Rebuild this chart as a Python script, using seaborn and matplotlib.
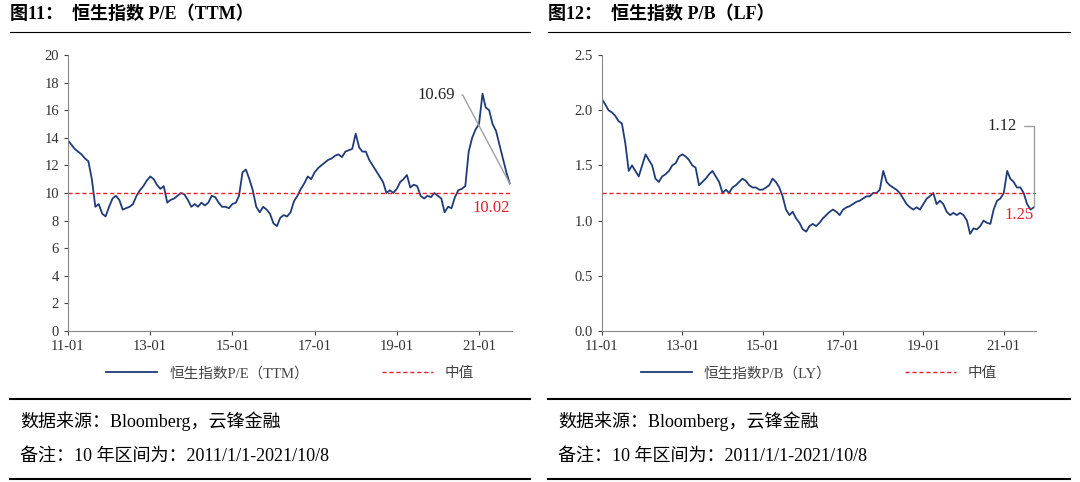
import numpy as np
import pandas as pd
import matplotlib
matplotlib.use('Agg')
import matplotlib.pyplot as plt
import matplotlib.dates as mdates
from matplotlib.lines import Line2D
import seaborn as sns

plt.rcParams['font.family'] = ['Liberation Serif', 'Noto Sans CJK SC']
plt.rcParams['axes.unicode_minus'] = False

# ==========================================
# 数据 (月度, 2011-01 ~ 2021-10, 读图估计)
# ==========================================
MONTHS = pd.date_range('2011-01-01', '2021-10-01', freq='MS')

PE_TTM = [
    13.8, 13.5, 13.2, 13.0, 12.8, 12.5, 12.3, 11.0, 9.0, 9.2, 8.5, 8.3,
    9.0, 9.6, 9.8, 9.5, 8.8, 8.9, 9.0, 9.2, 9.8, 10.2, 10.5, 10.9,
    11.2, 11.0, 10.6, 10.3, 10.5, 9.3, 9.5, 9.6, 9.8, 10.0, 9.9, 9.5,
    9.0, 9.2, 9.0, 9.3, 9.1, 9.3, 9.8, 9.7, 9.3, 9.0, 9.0, 8.9,
    9.2, 9.3, 9.8, 11.5, 11.7, 11.0, 10.2, 9.0, 8.6, 9.0, 8.8, 8.5,
    7.8, 7.6, 8.2, 8.4, 8.3, 8.6, 9.4, 9.8, 10.3, 10.7, 11.2, 11.0,
    11.5, 11.8, 12.0, 12.2, 12.4, 12.5, 12.7, 12.8, 12.6, 13.0, 13.1, 13.2,
    14.3, 13.3, 13.0, 13.0, 12.4, 12.0, 11.6, 11.2, 10.8, 10.0, 10.2, 10.0,
    10.3, 10.8, 11.0, 11.3, 10.4, 10.6, 10.5, 9.8, 9.6, 9.8, 9.7, 10.0,
    9.8, 9.6, 8.6, 9.0, 8.9, 9.7, 10.2, 10.3, 10.5, 13.0, 14.0, 14.6,
    15.0, 17.2, 16.2, 16.0, 15.0, 14.5, 13.5, 12.5, 11.5, 10.69,
]
PB_LF = [
    2.10, 2.05, 2.00, 1.98, 1.95, 1.90, 1.88, 1.70, 1.45, 1.50, 1.45, 1.40,
    1.50, 1.60, 1.55, 1.50, 1.38, 1.35, 1.40, 1.42, 1.45, 1.50, 1.52, 1.58,
    1.60, 1.58, 1.55, 1.50, 1.48, 1.32, 1.35, 1.38, 1.42, 1.45, 1.40, 1.35,
    1.25, 1.28, 1.25, 1.30, 1.32, 1.35, 1.38, 1.36, 1.32, 1.30, 1.30, 1.28,
    1.28, 1.30, 1.32, 1.38, 1.35, 1.30, 1.22, 1.10, 1.05, 1.08, 1.02, 0.98,
    0.92, 0.90, 0.95, 0.97, 0.95, 0.98, 1.02, 1.05, 1.08, 1.10, 1.08, 1.05,
    1.10, 1.12, 1.13, 1.15, 1.17, 1.18, 1.20, 1.22, 1.22, 1.25, 1.25, 1.28,
    1.45, 1.35, 1.32, 1.30, 1.28, 1.25, 1.20, 1.15, 1.12, 1.10, 1.12, 1.10,
    1.15, 1.20, 1.22, 1.25, 1.15, 1.18, 1.15, 1.08, 1.05, 1.07, 1.05, 1.07,
    1.05, 1.00, 0.88, 0.93, 0.92, 0.95, 1.00, 0.98, 0.97, 1.10, 1.18, 1.20,
    1.25, 1.45, 1.38, 1.35, 1.30, 1.30, 1.25, 1.15, 1.10, 1.12,
]
PE_MEDIAN = 10.02
PB_MEDIAN = 1.25
TICK_YEARS = ['2011', '2013', '2015', '2017', '2019', '2021']

LINE_COLOR = '#1f3c78'
RED = '#e3212b'
GREY = '#a0a0a0'


def draw_panel(ax, values, median, ylim, ystep, fmt, legend_name, last_label, med_label_y, text_xy, conn):
    df = pd.DataFrame({'date': MONTHS, 'value': values})
    sns.lineplot(data=df, x='date', y='value', ax=ax, color=LINE_COLOR, linewidth=1.3, label=legend_name)
    ax.axhline(median, color=RED, linestyle=(0, (3, 2)), linewidth=1.0, label='中值')

    ax.set_xlim(MONTHS[0], MONTHS[-1] + pd.Timedelta(days=20))
    ax.set_ylim(*ylim)
    ax.set_yticks(np.arange(ylim[0], ylim[1] + ystep / 2, ystep))
    ax.yaxis.set_major_formatter(plt.FormatStrFormatter(fmt))
    ax.set_xticks([pd.Timestamp(y + '-01-01') for y in TICK_YEARS])
    ax.xaxis.set_major_formatter(mdates.DateFormatter('%y-%m'))
    ax.set_xlabel('')
    ax.set_ylabel('')
    for s in ['top', 'right']:
        ax.spines[s].set_visible(False)
    for s in ['left', 'bottom']:
        ax.spines[s].set_color('#888888')
        ax.spines[s].set_linewidth(0.8)
    ax.tick_params(labelsize=10.5, colors='#444444', length=3, width=0.8)
    for lab in ax.get_xticklabels() + ax.get_yticklabels():
        lab.set_color('#333333')

    # 最新值标注
    ax.annotate(last_label, xy=(MONTHS[-1], values[-1]),
                xytext=(pd.Timestamp(text_xy[0]), text_xy[1]),
                fontsize=12, color='#222222', ha='right', va='center',
                arrowprops=dict(arrowstyle='-', color=GREY, lw=1.0, connectionstyle=conn,
                                shrinkA=3, shrinkB=0))
    # 中值标注
    ax.text(MONTHS[-1], med_label_y, f'{median:.2f}', color=RED, fontsize=12, ha='right', va='center')

    leg = ax.legend(loc='upper center', bbox_to_anchor=(0.5, -0.08), ncol=2, frameon=False,
                    fontsize=10.5, handlelength=3.5, columnspacing=5)
    for t in leg.get_texts():
        t.set_color('#444444')


fig = plt.figure(figsize=(10.8, 4.82), dpi=100)
H = 482.0
W = 1080.0

ax1 = fig.add_axes([68 / W, 1 - 331 / H, 444 / W, 276 / H])
ax2 = fig.add_axes([602 / W, 1 - 331 / H, 434 / W, 276 / H])

draw_panel(ax1, PE_TTM, PE_MEDIAN, (0, 20), 2, '%d', '恒生指数P/E（TTM）', '10.69', 8.9,
           ('2020-06-01', 17.1), 'angle,angleA=0,angleB=118,rad=0')
draw_panel(ax2, PB_LF, PB_MEDIAN, (0, 2.5), 0.5, '%.1f', '恒生指数P/B（LY）', '1.12', 1.05,
           ('2021-05-01', 1.86), 'angle,angleA=0,angleB=90,rad=0')

# 标题与注释
for x0, x1, title in [(10, 530, '图11：  恒生指数 P/E（TTM）'), (548, 1070, '图12：  恒生指数 P/B（LF）')]:
    fig.text(x0 / W, 1 - 14 / H, title, fontsize=13, fontweight='bold', va='center', ha='left')
    fig.add_artist(Line2D([x0 / W, x1 / W], [1 - 32 / H, 1 - 32 / H], color='black', lw=0.8))
    fig.add_artist(Line2D([x0 / W, x1 / W], [1 - 399 / H, 1 - 399 / H], color='black', lw=1.5))
    fig.add_artist(Line2D([x0 / W, x1 / W], [1 - 479 / H, 1 - 479 / H], color='black', lw=1.5))
    fig.text((x0 + 10) / W, 1 - 421 / H, '数据来源：Bloomberg，云锋金融', fontsize=13, va='center', ha='left')
    fig.text((x0 + 10) / W, 1 - 456 / H, '备注：10 年区间为：2011/1/1-2021/10/8', fontsize=13, va='center', ha='left')

fig.savefig('out.png', dpi=100)
